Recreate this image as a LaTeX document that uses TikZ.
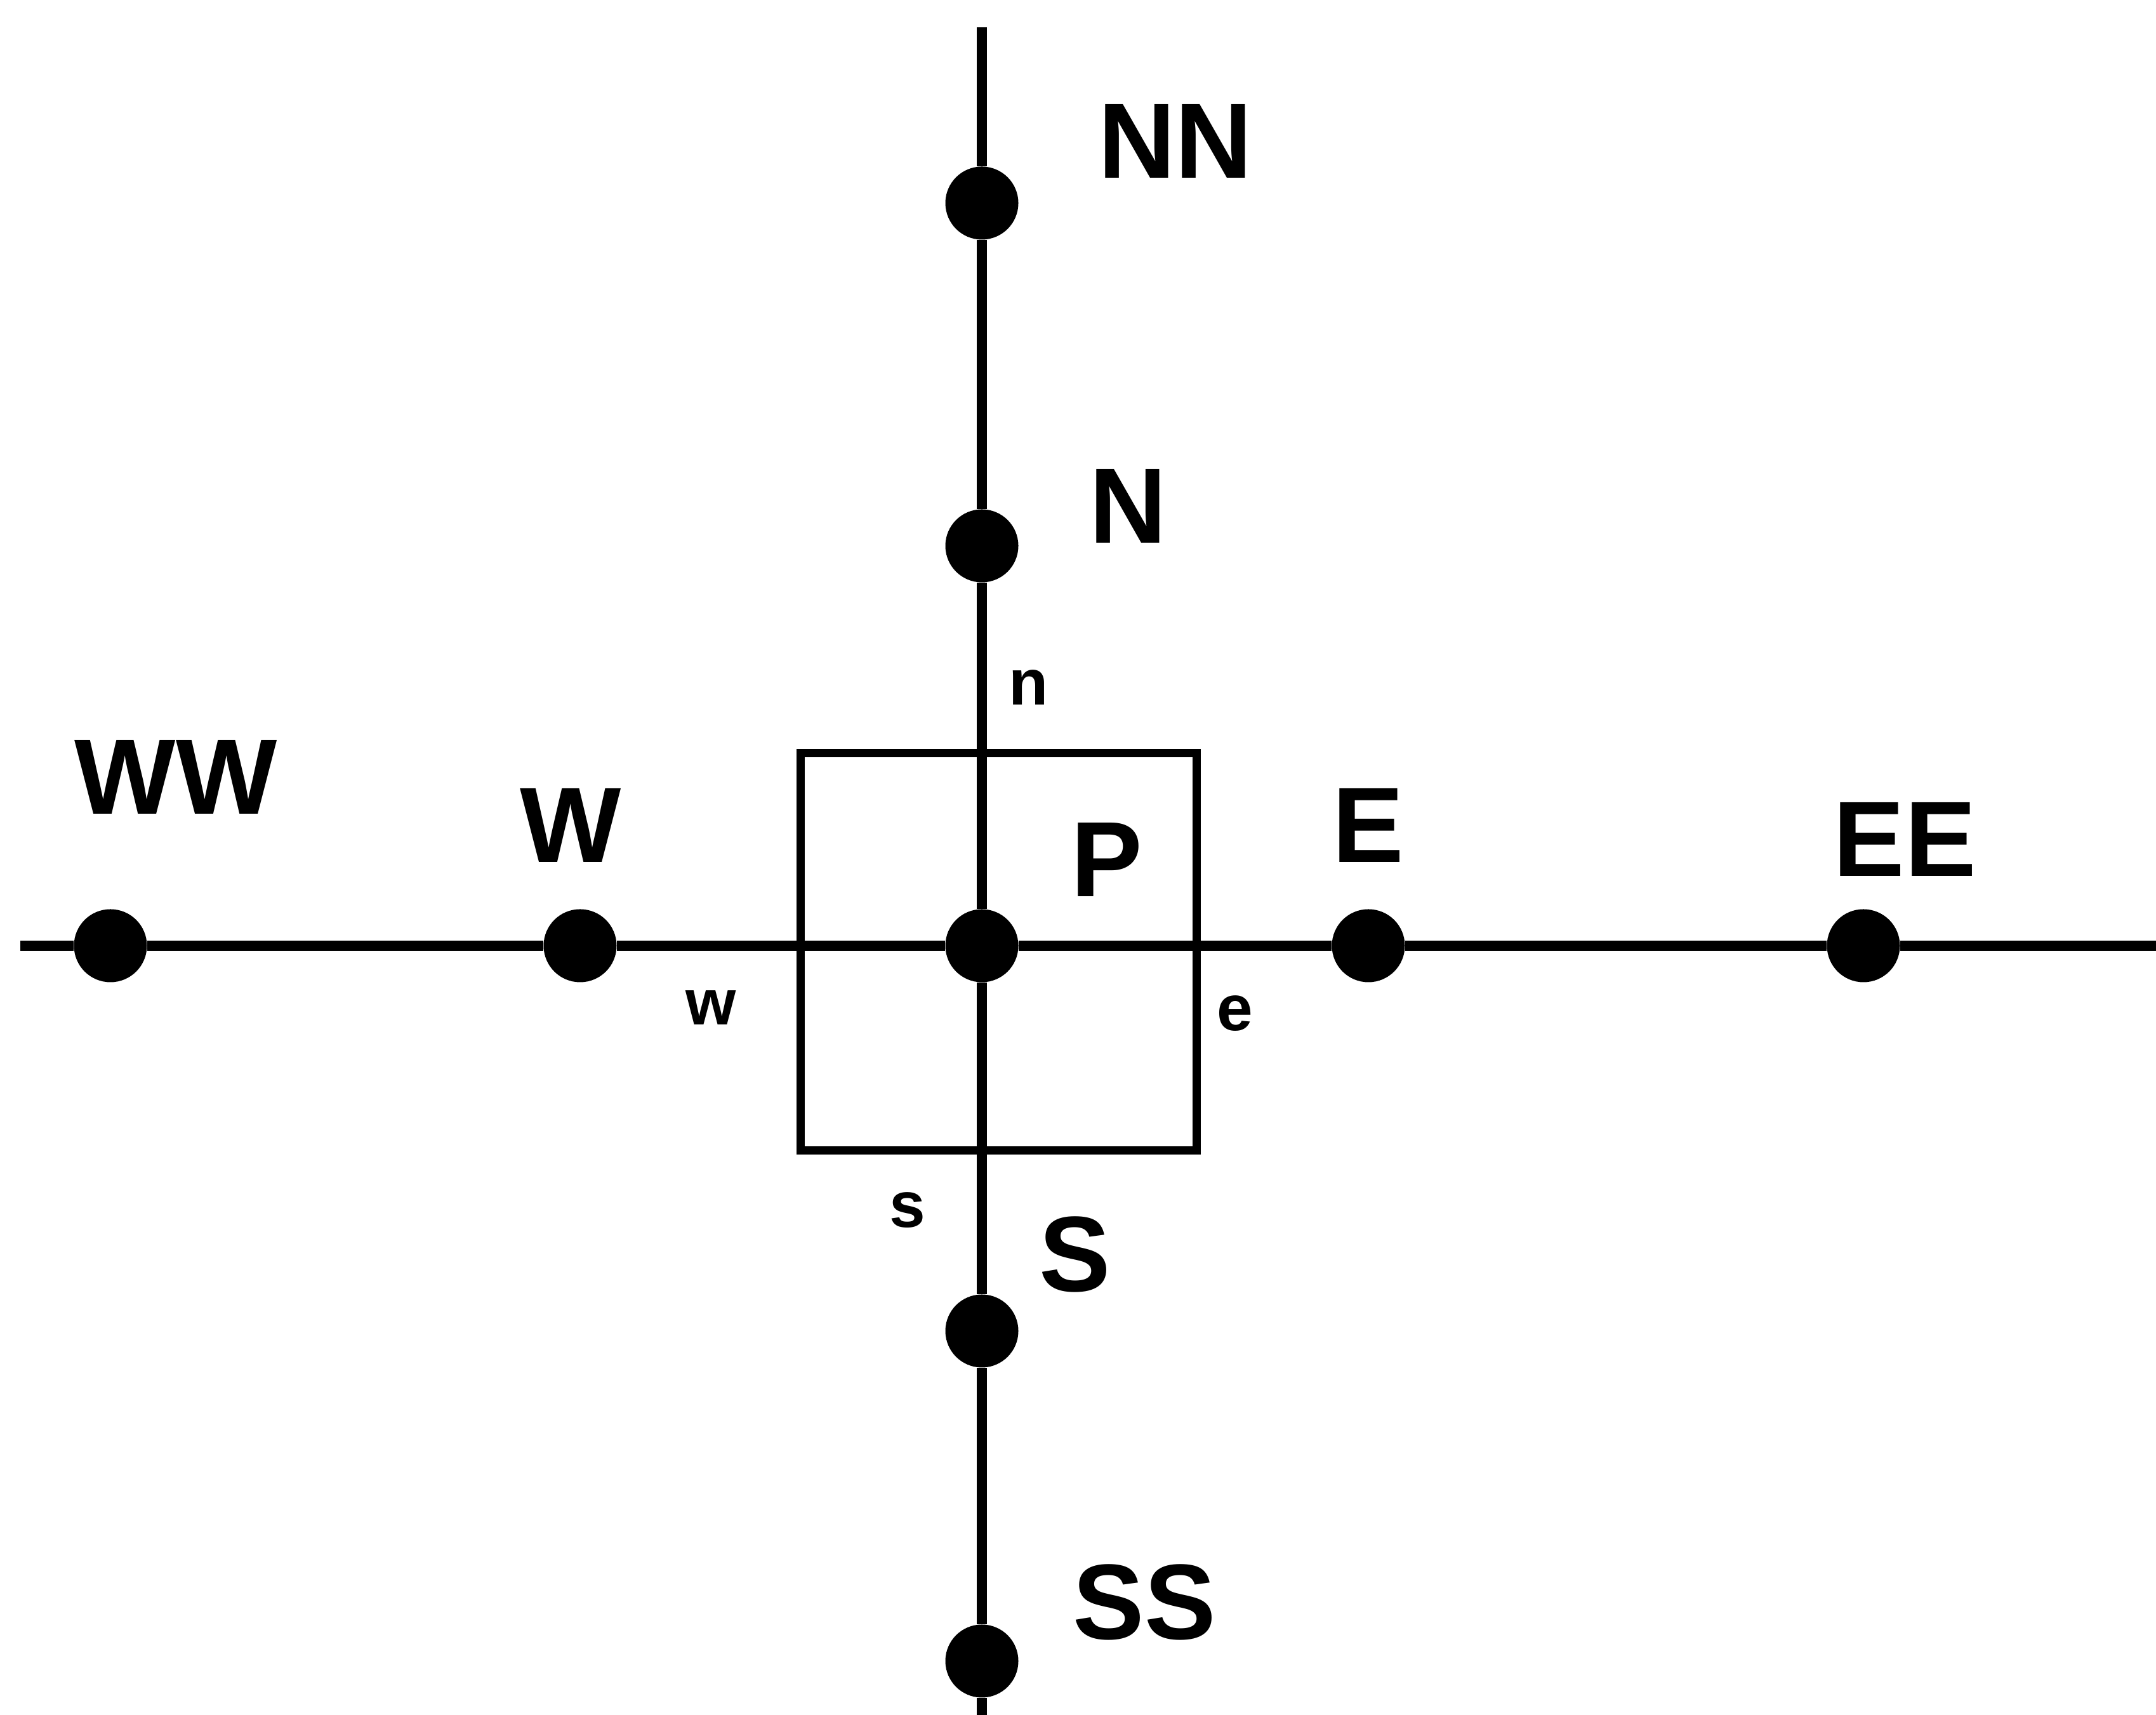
\documentclass[tikz,border=0pt]{standalone}
\usepackage{fontspec}
\setmainfont{Liberation Sans}
\usepackage{tikz}
\usetikzlibrary{calc,positioning}

\tikzset{
	gridpt/.style={circle,fill=black,inner sep=0pt,minimum size=1.15cm},
	ptlbl/.style={font=\fontsize{48}{50}\selectfont\bfseries,inner sep=0pt},
	facelbl/.style={font=\fontsize{29}{31}\selectfont\bfseries,inner sep=0pt},
	gridline/.style={line width=4.5pt},
	cvline/.style={line width=3.7pt}
}

\begin{document}
\begin{tikzpicture}
	\useasboundingbox (0,0) rectangle (33.97,27.02);
				% control volume
				\draw[cvline] (12.61,8.89) rectangle (18.85,15.15);
				% grid points
				\node[gridpt] (WW) at (1.74,12.12) {};
				\node[gridpt] (W) at (9.14,12.12) {};
				\node[gridpt] (P) at (15.47,12.12) {};
				\node[gridpt] (E) at (21.56,12.12) {};
				\node[gridpt] (EE) at (29.36,12.12) {};
				\node[gridpt] (NN) at (15.47,23.82) {};
				\node[gridpt] (N) at (15.47,18.42) {};
				\node[gridpt] (S) at (15.47,6.05) {};
				\node[gridpt] (SS) at (15.47,0.85) {};
				\coordinate (west) at (0.32,12.12);
				\coordinate (east) at (33.97,12.12);
				\coordinate (top) at (15.47,26.59);
				\coordinate (bottom) at (15.47,0);
				\draw[gridline] (west) -- (WW) -- (W) -- (P) -- (E) -- (EE) -- (east);
				\draw[gridline] (top) -- (NN) -- (N) -- (P) -- (S) -- (SS) -- (bottom);
				% labels
				\node[ptlbl] (lNN) at (18.52,24.79) {NN};
				\node[ptlbl] (lN) at (17.77,19.05) {N};
				\node[ptlbl] (lWW) at (2.77,14.78) {WW};
				\node[ptlbl] (lW) at (8.99,14.02) {W};
				\node[ptlbl] (lP) at (17.44,13.48) {P};
				\node[ptlbl] (lE) at (21.56,14.02) {E};
				\node[ptlbl] (lEE) at (30.01,13.80) {EE};
				\node[ptlbl] (lS) at (16.94,7.26) {S};
				\node[ptlbl] (lSS) at (18.03,1.78) {SS};
				\node[facelbl] (ln) at (16.21,16.19) {n};
				\node[facelbl] (lw) at (11.20,11.14) {w};
				\node[facelbl] (le) at (19.46,11.05) {e};
				\node[facelbl] (ls) at (14.30,7.95) {s};
	\end{tikzpicture}
\end{document}
